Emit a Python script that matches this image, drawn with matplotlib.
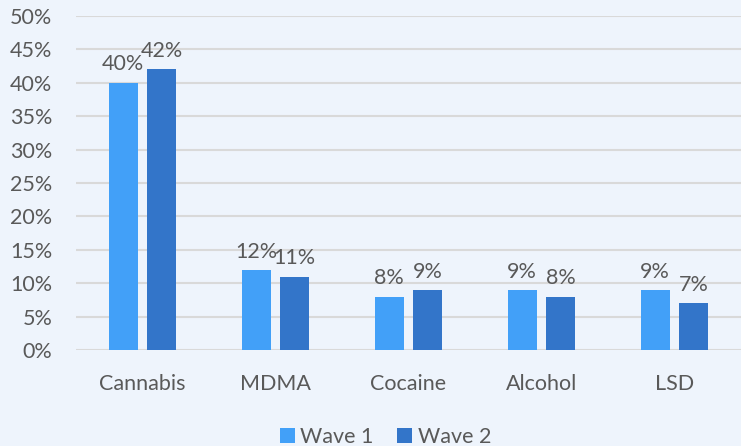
import numpy as np
import matplotlib.pyplot as plt

categories = ['Cannabis', 'MDMA', 'Cocaine', 'Alcohol', 'LSD']
wave1 = [40, 12, 8, 9, 9]
wave2 = [42, 11, 9, 8, 7]
yticks = [0, 5, 10, 15, 20, 25, 30, 35, 40, 45, 50]

bg = '#EEF4FC'
c1 = '#42A0F8'
c2 = '#3375C9'
txt = '#595959'

plt.rcParams['font.family'] = ['Lato', 'DejaVu Sans']

fig = plt.figure(figsize=(7.41, 4.46), dpi=100, facecolor=bg)
ax = fig.add_axes([0.1026, 0.2152, 0.8974, 0.7489], facecolor=bg)

x = np.arange(len(categories))
w = 0.22
off = 0.145
b1 = ax.bar(x - off, wave1, w, color=c1, label='Wave 1', zorder=3)
b2 = ax.bar(x + off, wave2, w, color=c2, label='Wave 2', zorder=3)

for bars, vals in ((b1, wave1), (b2, wave2)):
    for b, v in zip(bars, vals):
        ax.annotate(f'{v}%', (b.get_x() + b.get_width() / 2, v),
                    xytext=(0, 6), textcoords='offset points',
                    ha='center', va='bottom', fontsize=15.5, color=txt)

ax.set_xlim(-0.5, len(categories) - 0.5)
ax.set_ylim(0, 50)
ax.set_yticks(yticks)
ax.set_yticklabels([f'{t}%' for t in yticks])
ax.set_xticks(x)
ax.set_xticklabels(categories)
ax.tick_params(axis='both', length=0, labelsize=15.5, colors=txt)
ax.tick_params(axis='x', pad=17)
ax.tick_params(axis='y', pad=17)
ax.grid(axis='y', color='#D9D9D9', linewidth=1.5, zorder=0)
for s in ax.spines.values():
    s.set_visible(False)

fig.legend(loc='lower center', ncol=2, frameon=False, fontsize=15.5,
           labelcolor=txt, handlelength=0.7, handleheight=0.7,
           handletextpad=0.25, columnspacing=1.1, bbox_to_anchor=(0.52, -0.045))

fig.savefig('out.png', dpi=100, facecolor=bg)
